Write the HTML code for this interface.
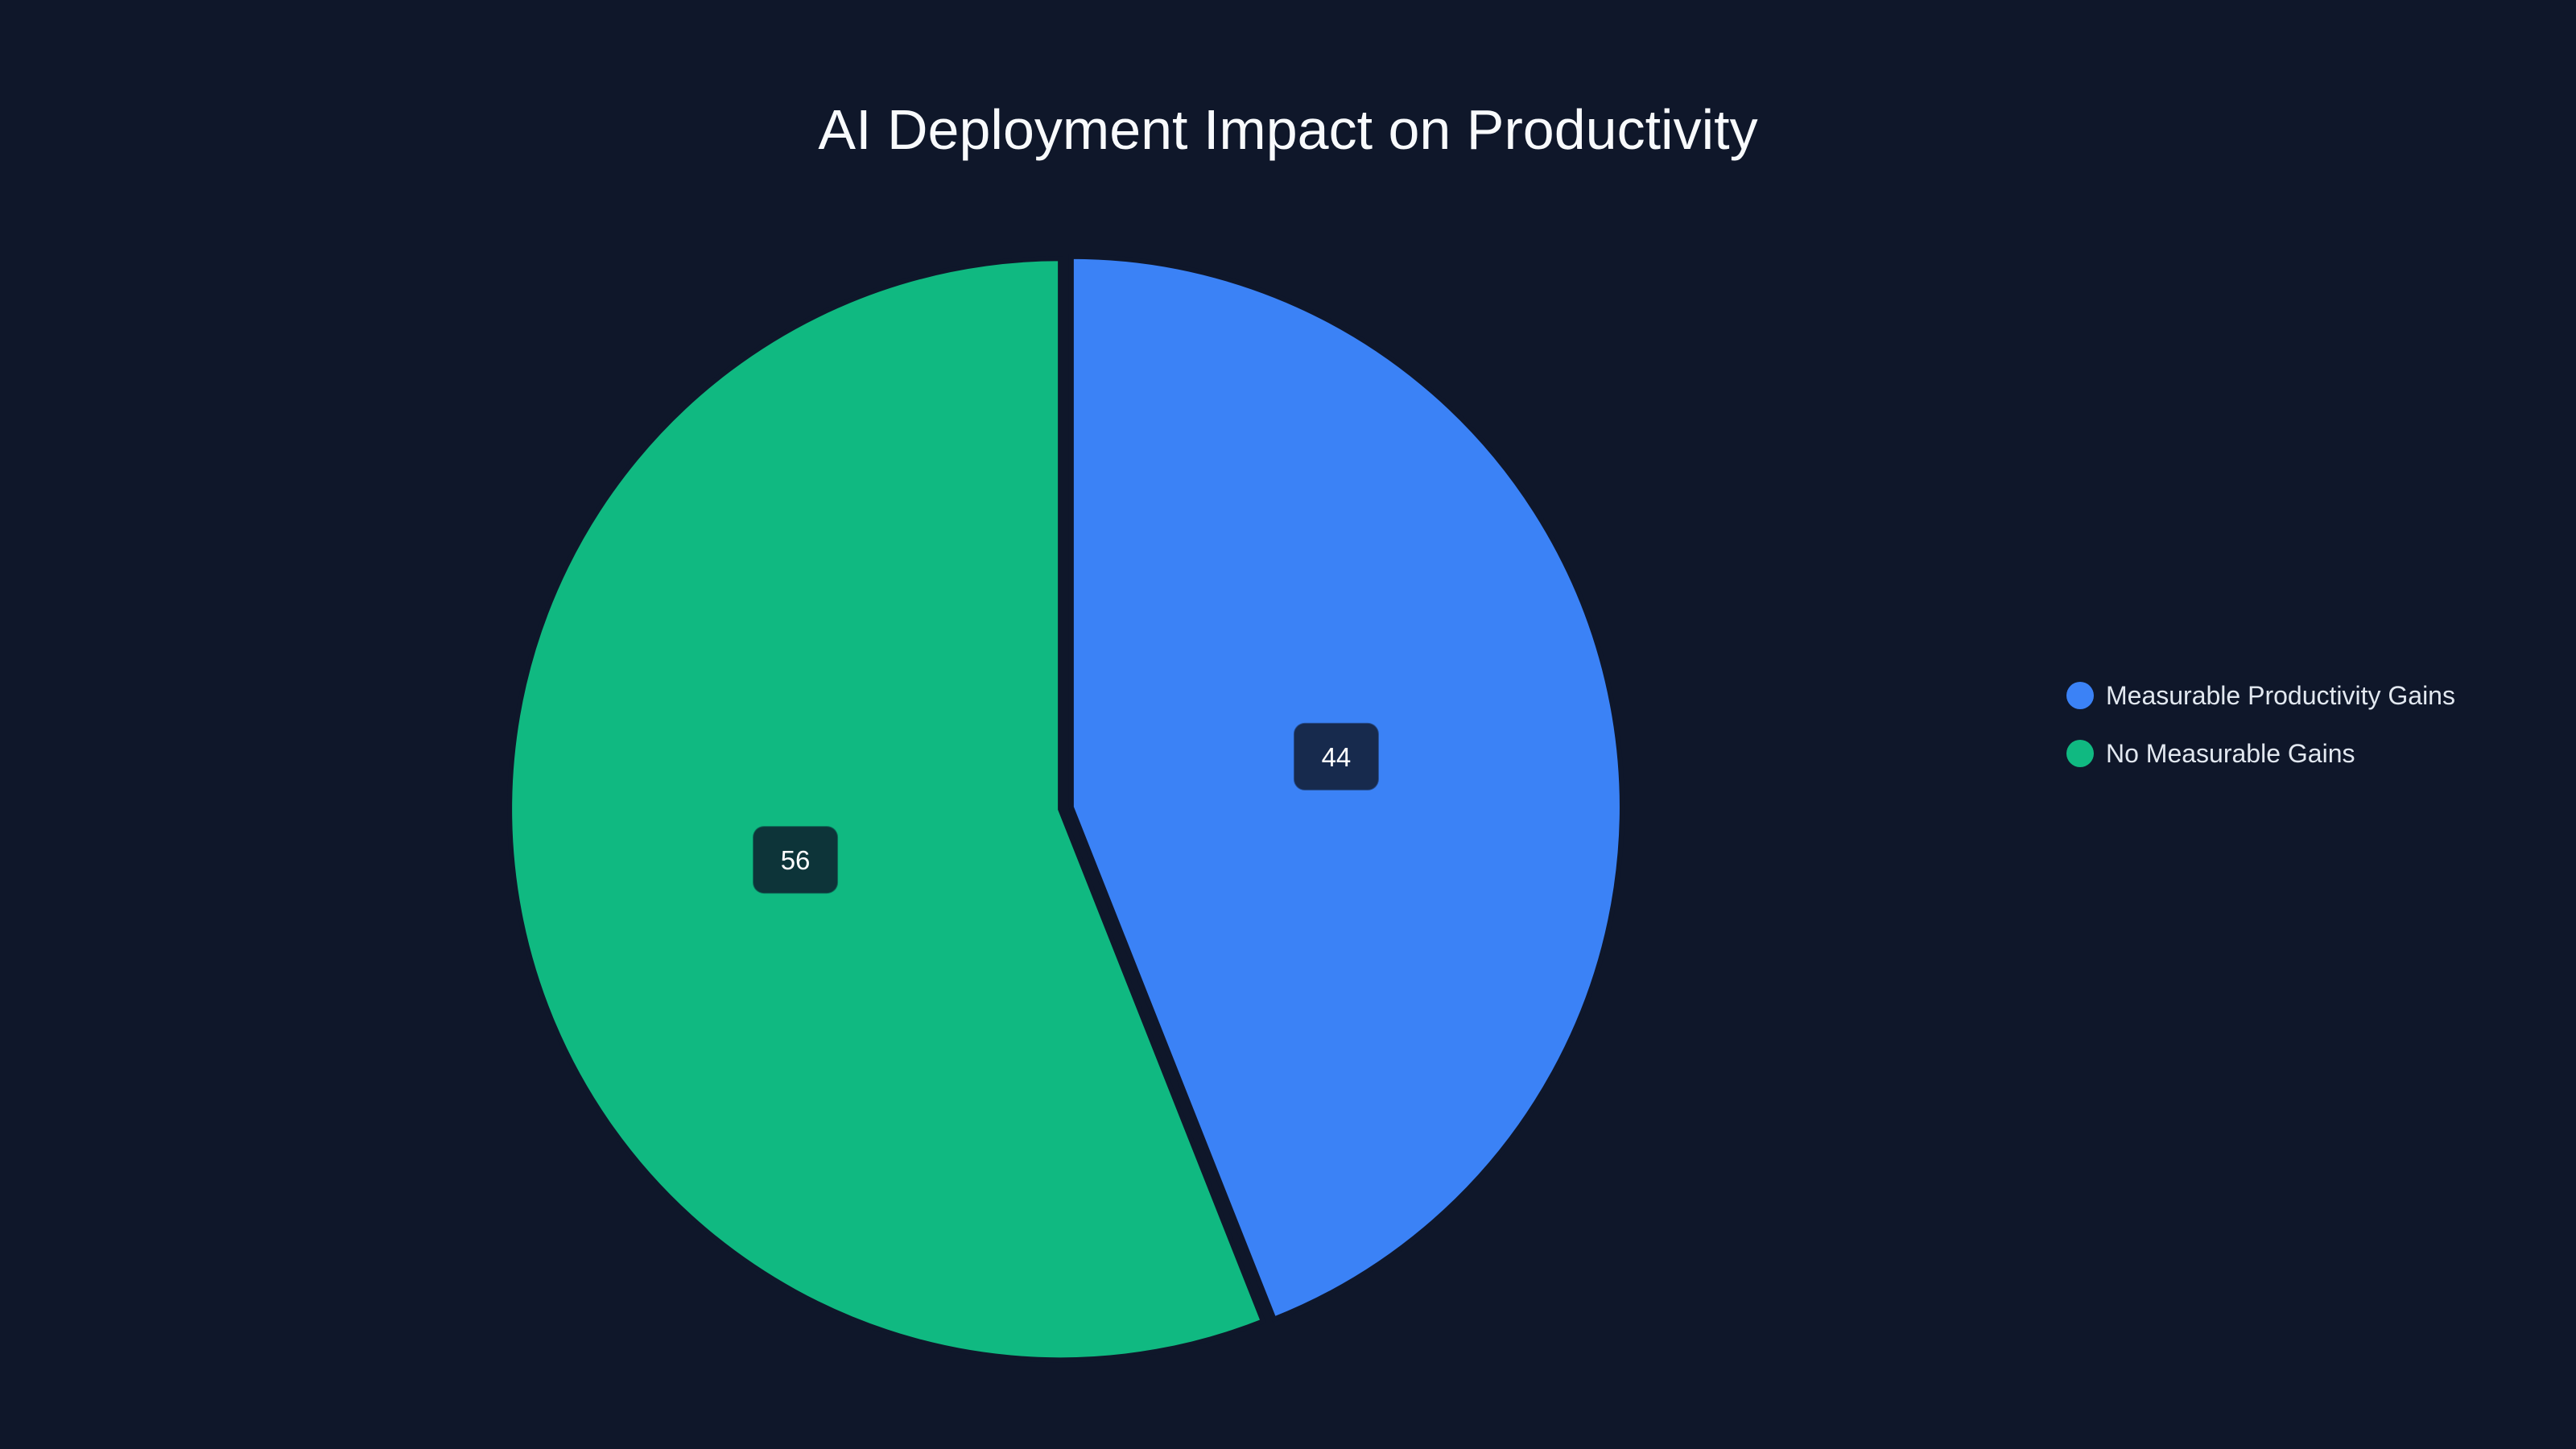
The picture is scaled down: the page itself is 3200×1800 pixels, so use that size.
<!DOCTYPE html>
<html><head><meta charset="utf-8"><style>
html,body{margin:0;padding:0;background:#0f172a;}
svg{display:block;font-family:"Liberation Sans",sans-serif;}
</style></head><body>
<svg id="chart" width="3200" height="1800" viewBox="0 0 3200 1800">
<rect width="3200" height="1800" fill="#0f172a"/>
<text x="1600" y="185" text-anchor="middle" font-size="70" fill="#f8fafc">AI Deployment Impact on Productivity</text>
<g id="slices"></g>
<g id="labels"></g>
<g id="legend"></g>
</svg>
<script>
const categories = ["Measurable Productivity Gains", "No Measurable Gains"];
const values = [44, 56];
const colors = ["#3b82f6", "#10b981"];
const labelFills = ["#172a4d", "#0d3439"];

const NS = "http://www.w3.org/2000/svg";
const cx = 1324, cy = 1004, r = 684, pull = 7;
const total = values.reduce((a, b) => a + b, 0);
const slicesG = document.getElementById("slices");
const labelsG = document.getElementById("labels");
const legendG = document.getElementById("legend");
let start = 0;
values.forEach((v, i) => {
  const sweep = v / total * 2 * Math.PI;
  const mid = start + sweep / 2;
  const ox = Math.sin(mid) * pull, oy = -Math.cos(mid) * pull;
  const x0 = cx + ox, y0 = cy + oy;
  const p1x = x0 + r * Math.sin(start), p1y = y0 - r * Math.cos(start);
  const p2x = x0 + r * Math.sin(start + sweep), p2y = y0 - r * Math.cos(start + sweep);
  const large = sweep > Math.PI ? 1 : 0;
  const path = document.createElementNS(NS, "path");
  path.setAttribute("d", `M${x0},${y0} L${p1x},${p1y} A${r},${r} 0 ${large} 1 ${p2x},${p2y} Z`);
  path.setAttribute("fill", colors[i]);
  path.setAttribute("stroke", "#0f172a");
  path.setAttribute("stroke-width", "6");
  
  
  slicesG.appendChild(path);

  const lx = cx + Math.sin(mid) * r * 0.5, ly = cy - Math.cos(mid) * r * 0.5;
  const box = document.createElementNS(NS, "rect");
  box.setAttribute("x", lx - 53); box.setAttribute("y", ly - 42);
  box.setAttribute("width", 106); box.setAttribute("height", 84);
  box.setAttribute("rx", 14);
  box.setAttribute("fill", labelFills[i]);
  box.setAttribute("stroke", colors[i]); box.setAttribute("stroke-opacity", "0.4"); box.setAttribute("stroke-width", "2");
  
  
  labelsG.appendChild(box);
  const t = document.createElementNS(NS, "text");
  t.setAttribute("x", lx); t.setAttribute("y", ly + 12);
  t.setAttribute("text-anchor", "middle"); t.setAttribute("font-size", "33"); t.setAttribute("fill", "#ffffff");
  t.textContent = v;
  
  
  labelsG.appendChild(t);

  const ly2 = 864 + i * 72;
  const c = document.createElementNS(NS, "circle");
  c.setAttribute("cx", 2584); c.setAttribute("cy", ly2); c.setAttribute("r", 17);
  c.setAttribute("fill", colors[i]);
  
  
  legendG.appendChild(c);
  const lt = document.createElementNS(NS, "text");
  lt.setAttribute("x", 2616); lt.setAttribute("y", ly2 + 11);
  lt.setAttribute("font-size", "32"); lt.setAttribute("fill", "#e2e8f0");
  lt.textContent = categories[i];
  
  
  legendG.appendChild(lt);

  start += sweep;
});
</script>
</body></html>
